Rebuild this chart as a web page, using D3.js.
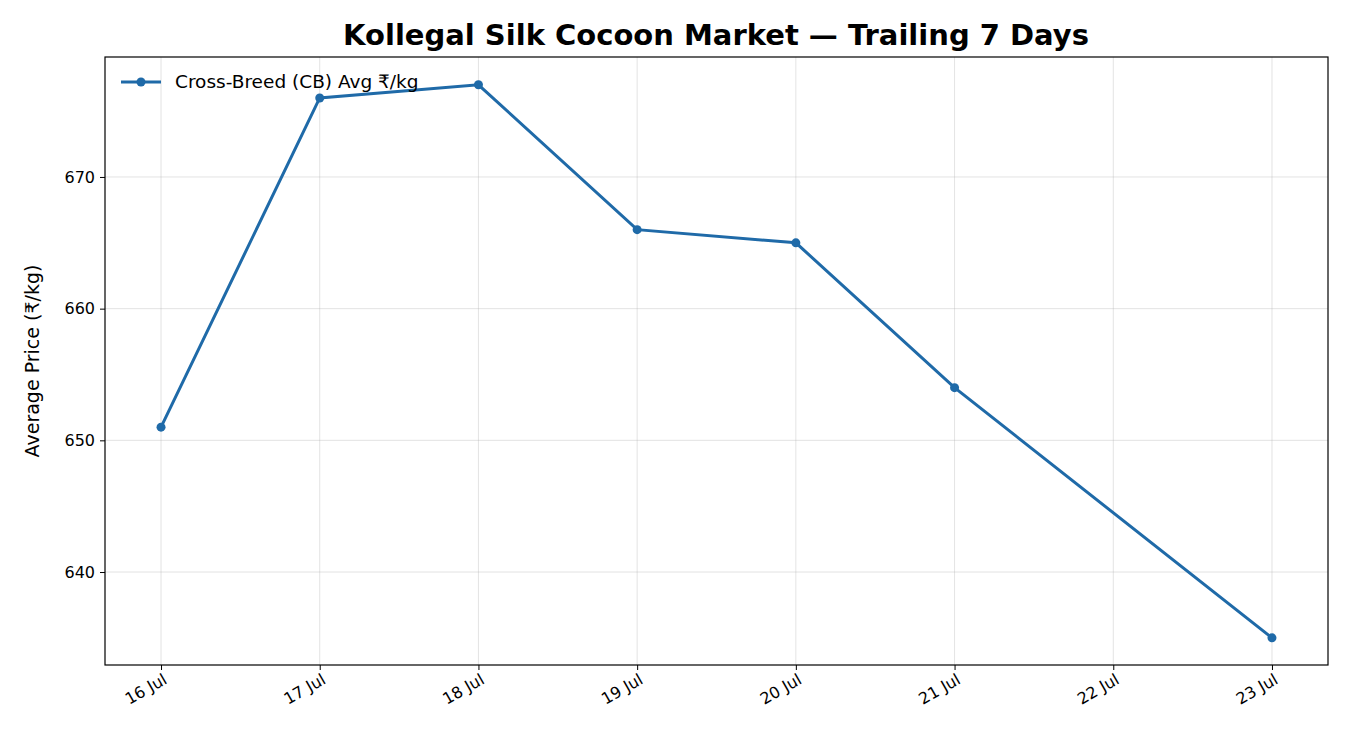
<!DOCTYPE html>
<html><head><meta charset="utf-8">
<script src="https://cdn.jsdelivr.net/npm/d3@7"></script>
<style>body{margin:0;background:#fff;font-family:"DejaVu Sans",sans-serif;}</style>
</head><body><div id="chart"></div>
<script>
const days = [16, 17, 18, 19, 20, 21, 23];
const prices = [651, 676, 677, 666, 665, 654, 635];
const tickDays = [16, 17, 18, 19, 20, 21, 22, 23];
const tickLabels = ["16 Jul", "17 Jul", "18 Jul", "19 Jul", "20 Jul", "21 Jul", "22 Jul", "23 Jul"];
const yTicks = [640, 650, 660, 670];

const W = 1350, H = 750;
const m = {left: 105, right: 22, top: 57, bottom: 85};
const svg = d3.select("#chart").append("svg").attr("width", W).attr("height", H)
  .style("font-family", "'DejaVu Sans', sans-serif");
const x = d3.scaleLinear().domain([15.647, 23.353]).range([m.left, W - m.right]);
const y = d3.scaleLinear().domain([632.94, 679.11]).range([H - m.bottom, m.top]);

// grid
svg.append("g").selectAll("line").data(tickDays).join("line")
  .attr("x1", d => x(d)).attr("x2", d => x(d)).attr("y1", m.top).attr("y2", H - m.bottom)
  .attr("stroke", "#b0b0b0").attr("stroke-opacity", 0.35);
svg.append("g").selectAll("line").data(yTicks).join("line")
  .attr("y1", d => y(d)).attr("y2", d => y(d)).attr("x1", m.left).attr("x2", W - m.right)
  .attr("stroke", "#b0b0b0").attr("stroke-opacity", 0.35);

const xAxis = svg.append("g").attr("transform", `translate(0,${H - m.bottom})`)
  .call(d3.axisBottom(x).tickValues(tickDays).tickFormat((d, i) => tickLabels[i]).tickSize(5).tickPadding(4))
  .attr("font-size", 16).attr("font-family", "'DejaVu Sans', sans-serif");
xAxis.selectAll("text").attr("text-anchor", "end").attr("dx", "-0.2em").attr("dy", "0.6em")
  .attr("transform", "rotate(-30)").attr("fill", "#000");
const yAxis = svg.append("g").attr("transform", `translate(${m.left},0)`)
  .call(d3.axisLeft(y).tickValues(yTicks).tickSize(5).tickPadding(5))
  .attr("font-size", 16).attr("font-family", "'DejaVu Sans', sans-serif");
yAxis.selectAll("text").attr("fill", "#000");
svg.selectAll(".domain").remove();
svg.append("rect").attr("x", m.left).attr("y", m.top).attr("width", W - m.left - m.right)
  .attr("height", H - m.top - m.bottom).attr("fill", "none").attr("stroke", "#000").attr("stroke-width", 1.2);

const pts = days.map((d, i) => [d, prices[i]]);
svg.append("path").datum(pts).attr("fill", "none").attr("stroke", "#1f6aa8").attr("stroke-width", 3)
  .attr("d", d3.line().x(d => x(d[0])).y(d => y(d[1])));
svg.append("g").selectAll("circle").data(pts).join("circle")
  .attr("cx", d => x(d[0])).attr("cy", d => y(d[1])).attr("r", 4.5).attr("fill", "#1f6aa8");

svg.append("text").attr("x", 716).attr("y", 45).attr("text-anchor", "middle")
  .attr("font-size", 29).attr("font-weight", "bold").text("Kollegal Silk Cocoon Market — Trailing 7 Days");
svg.append("text").attr("transform", `translate(39,${(m.top + H - m.bottom) / 2}) rotate(-90)`)
  .attr("text-anchor", "middle").attr("font-size", 19).text("Average Price (₹/kg)");

// legend
svg.append("line").attr("x1", 121).attr("x2", 161).attr("y1", 82).attr("y2", 82).attr("stroke", "#1f6aa8").attr("stroke-width", 3);
svg.append("circle").attr("cx", 141).attr("cy", 82).attr("r", 4.5).attr("fill", "#1f6aa8");
svg.append("text").attr("x", 175).attr("y", 88).attr("font-size", 18.5).text("Cross-Breed (CB) Avg ₹/kg");
</script></body></html>
